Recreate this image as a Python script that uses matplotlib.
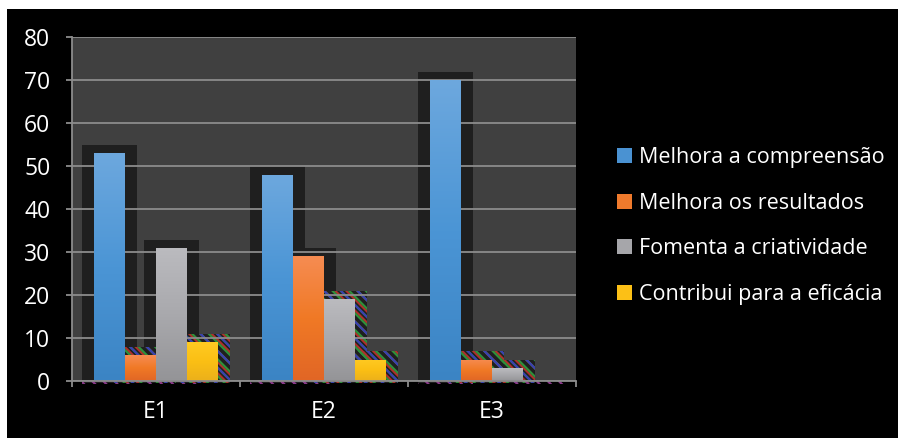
import numpy as np
import matplotlib
matplotlib.use("Agg")
import matplotlib.pyplot as plt
from matplotlib.patches import Patch, Rectangle
from matplotlib.colors import LinearSegmentedColormap

categories = ["E1", "E2", "E3"]
series_names = ["Melhora a compreensão", "Melhora os resultados",
                "Fomenta a criatividade", "Contribui para a eficácia"]
melhora_compreensao = [53, 48, 70]
melhora_resultados = [6, 29, 5]
fomenta_criatividade = [31, 19, 3]
contribui_eficacia = [9, 5, 0]
series_values = [melhora_compreensao, melhora_resultados,
                 fomenta_criatividade, contribui_eficacia]
yticks = [0, 10, 20, 30, 40, 50, 60, 70, 80]

gradients = [
    ["#6da8de", "#4b95d5", "#3b84c4"],
    ["#f68c52", "#f07925", "#e16626"],
    ["#bbbbbf", "#a9a9ad", "#949497"],
    ["#ffca22", "#fbbf14", "#ebb01b"],
]
legend_colors = ["#4a92d2", "#ef7a2c", "#a6a6aa", "#fcc016"]

FONT = "Open Sans"
plt.rcParams["font.family"] = [FONT, "DejaVu Sans"]
plt.rcParams["hatch.linewidth"] = 1.6

fig = plt.figure(figsize=(8.98, 4.38), dpi=100, facecolor="black")
# white strips on the left and top
fig.patches.append(Rectangle((0, 0), 7 / 898, 1, transform=fig.transFigure,
                             facecolor="white", edgecolor="none", zorder=-10))
fig.patches.append(Rectangle((0, 1 - 9 / 438), 1, 9 / 438, transform=fig.transFigure,
                             facecolor="white", edgecolor="none", zorder=-10))

ax = fig.add_axes([72 / 898, 1 - 381 / 438, (576 - 72) / 898, (381 - 37) / 438])
ax.set_facecolor("#404040")

x = np.arange(len(categories))
n = len(series_values)
w = 0.1845
sx_pad = 0.07   # shadow side extension (data units)
sy_pad = 1.9    # shadow top extension (data units)

grad_img = np.linspace(1, 0, 256).reshape(-1, 1)
for i, (vals, grad) in enumerate(zip(series_values, gradients)):
    offs = x + (i - (n - 1) / 2) * w
    bars = ax.bar(offs, vals, width=w, color=legend_colors[i], zorder=3,
                  linewidth=0)
    cmap = LinearSegmentedColormap.from_list(f"g{i}", grad[::-1])
    for b, v in zip(bars, vals):
        bx, bw, bh = b.get_x(), b.get_width(), b.get_height()
        if bh > 0:
            sh = Rectangle((bx - sx_pad, -0.5), bw + 2 * sx_pad, bh + sy_pad + 0.5,
                           facecolor="#1f1f1f", edgecolor="none", zorder=1,
                           clip_on=False)
            ax.add_patch(sh)
        if 0 < v <= 20:
            for hcol, hpat in [("#b0302a", "\\\\\\"), ("#2f8f3a", "\\\\\\\\"),
                               ("#3a3fb0", "\\\\")]:
                ax.add_patch(Rectangle((bx - sx_pad, -0.5), bw + 2 * sx_pad,
                                       bh + sy_pad + 0.5, facecolor="none",
                                       edgecolor=hcol, hatch=hpat, linewidth=0,
                                       zorder=1.5, clip_on=False))
        else:
            ax.add_patch(Rectangle((bx - sx_pad, -0.6), bw + 2 * sx_pad, 0.6,
                                   facecolor="none", edgecolor="#8a3c8a",
                                   hatch="\\\\\\", linewidth=0, zorder=1.5,
                                   clip_on=False))
        if bh > 0:
            im = ax.imshow(grad_img, cmap=cmap, aspect="auto",
                           extent=(bx, bx + bw, 0, bh), zorder=4,
                           interpolation="bilinear")
            im.set_clip_path(b)

ax.set_xlim(-0.5, len(categories) - 0.5)
ax.set_ylim(0, 80)
ax.set_yticks(yticks)
ax.set_yticklabels([str(t) for t in yticks])
ax.set_xticks(x)
ax.set_xticklabels(categories)
ax.set_xticks(np.arange(len(categories) + 1) - 0.5, minor=True)

ax.grid(axis="y", color="#8c8c8c", linewidth=1.3, zorder=2)
ax.set_axisbelow(False)
for gl in ax.get_ygridlines():
    gl.set_zorder(2)

for s in ["top", "right"]:
    ax.spines[s].set_visible(False)
ax.spines["left"].set_color("#8c8c8c")
ax.spines["bottom"].set_color("#8c8c8c")
ax.spines["left"].set_linewidth(1.3)
ax.spines["bottom"].set_linewidth(1.3)
ax.spines["bottom"].set_zorder(5)

ax.tick_params(axis="y", colors="#8c8c8c", labelcolor="white", labelsize=16.5,
               length=4.5, width=1.3, pad=11)
ax.tick_params(axis="x", which="major", length=0, labelcolor="white",
               labelsize=16.5, pad=14)
ax.tick_params(axis="x", which="minor", length=4, width=1.3, colors="#8c8c8c")

handles = [Patch(facecolor=c, edgecolor="none") for c in legend_colors]
leg = fig.legend(handles, series_names, loc="center left",
                 bbox_to_anchor=(598 / 898, 1 - 226 / 438),
                 frameon=False, fontsize=15.5, labelcolor="white",
                 handlelength=0.7, handleheight=0.7, handletextpad=0.3,
                 labelspacing=1.15)

fig.savefig("out.png", dpi=100, facecolor="black")
